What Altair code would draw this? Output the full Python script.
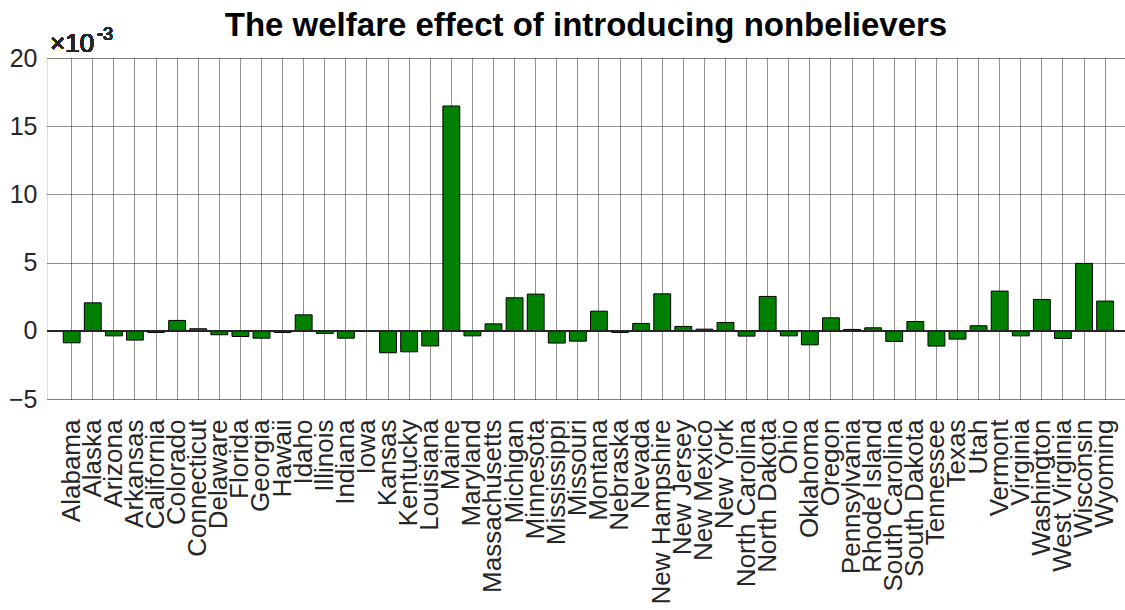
import altair as alt
import pandas as pd

# Welfare effect per state, in units of 1e-3
states = [
    "Alabama", "Alaska", "Arizona", "Arkansas", "California", "Colorado",
    "Connecticut", "Delaware", "Florida", "Georgia", "Hawaii", "Idaho",
    "Illinois", "Indiana", "Iowa", "Kansas", "Kentucky", "Louisiana",
    "Maine", "Maryland", "Massachusetts", "Michigan", "Minnesota",
    "Mississippi", "Missouri", "Montana", "Nebraska", "Nevada",
    "New Hampshire", "New Jersey", "New Mexico", "New York",
    "North Carolina", "North Dakota", "Ohio", "Oklahoma", "Oregon",
    "Pennsylvania", "Rhode Island", "South Carolina", "South Dakota",
    "Tennessee", "Texas", "Utah", "Vermont", "Virginia", "Washington",
    "West Virginia", "Wisconsin", "Wyoming",
]
effect = [
    -0.88, 2.05, -0.37, -0.68, -0.12, 0.76,
    0.15, -0.29, -0.42, -0.54, -0.12, 1.17,
    -0.20, -0.54, -0.05, -1.61, -1.54, -1.11,
    16.48, -0.37, 0.51, 2.42, 2.69,
    -0.90, -0.76, 1.44, -0.12, 0.54,
    2.71, 0.32, 0.12, 0.61,
    -0.39, 2.52, -0.37, -1.03, 0.95,
    0.10, 0.22, -0.78, 0.68,
    -1.12, -0.61, 0.37, 2.91, -0.37, 2.30,
    -0.56, 4.94, 2.18,
]
y_ticks = [-5, 0, 5, 10, 15, 20]

df = pd.DataFrame({"state": states, "effect": effect})

FONT = "Liberation Sans"
INK = "#262626"
GRID = dict(gridColor="#000000", gridDash=[1, 1], gridOpacity=0.85, gridWidth=1)

x_enc = alt.X(
    "state:N",
    sort=states,
    scale=alt.Scale(paddingInner=0.2, paddingOuter=0.656, align=0.587),
    axis=alt.Axis(
        title=None,
        labelAngle=270,
        labelAlign="right",
        labelBaseline="middle",
        labelFont=FONT,
        labelFontSize=26,
        labelColor=INK,
        labelPadding=20,
        labelOverlap=False,
        labelLimit=0,
        ticks=False,
        domain=False,
        grid=True,
        **GRID,
    ),
)
y_enc = alt.Y(
    "effect:Q",
    scale=alt.Scale(domain=[-5, 20], nice=False, zero=False),
    axis=alt.Axis(
        title=None,
        values=y_ticks,
        labelFont=FONT,
        labelFontSize=25,
        labelColor=INK,
        labelPadding=10,
        ticks=False,
        domain=False,
        grid=True,
        **GRID,
    ),
)

bars = alt.Chart(df).mark_bar(
    color="#008000", stroke="#000000", strokeWidth=1
).encode(x=x_enc, y=y_enc)

baseline = alt.Chart(df).mark_rule(color=INK, strokeWidth=1).encode(
    y=alt.datum(0)
)

# exponent label for the y axis
exp_base = alt.Chart(df).mark_text(
    font=FONT, fontSize=26, fontWeight="normal", color=INK,
    align="left", baseline="alphabetic"
).encode(x=alt.value(3), y=alt.value(-6), text=alt.value("×10"))
exp_pow = alt.Chart(df).mark_text(
    font=FONT, fontSize=18, fontWeight="normal", color=INK,
    align="left", baseline="alphabetic"
).encode(x=alt.value(50), y=alt.value(-18), text=alt.value("-3"))

chart = (
    alt.layer(bars, baseline, exp_base, exp_pow)
    .properties(
        width=1078,
        height=341,
        title=alt.TitleParams(
            "The welfare effect of introducing nonbelievers",
            font=FONT,
            fontSize=33,
            fontWeight="bold",
            color="#000000",
            anchor="middle",
            frame="group",
            baseline="alphabetic",
            offset=-43,
        ),
        autosize=alt.AutoSizeParams(type="none"),
        padding={"left": 47, "top": 58, "right": 0, "bottom": 211},
    )
    .configure_view(stroke=INK, strokeWidth=1)
    .configure(background="white")
)

chart.save("out.html", embed_options={"renderer": "svg", "actions": False})
